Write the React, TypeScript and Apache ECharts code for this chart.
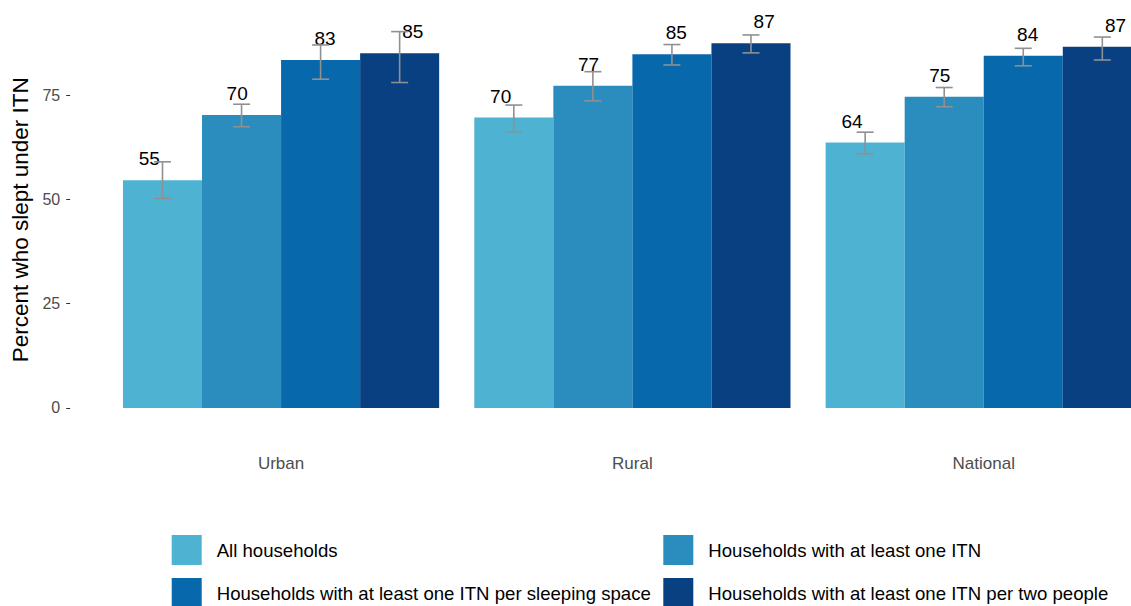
import React, { useEffect, useRef } from "react";
import * as echarts from "echarts";

const categories = ["Urban", "Rural", "National"];
const seriesNames = [
  "All households",
  "Households with at least one ITN",
  "Households with at least one ITN per sleeping space",
  "Households with at least one ITN per two people",
];
const allHouseholds = [54.6, 69.6, 63.6];
const atLeastOne = [70.2, 77.2, 74.6];
const perSleepingSpace = [83.4, 84.8, 84.4];
const perTwoPeople = [85.0, 87.4, 86.6];

const allLow = [50.2, 66.2, 60.9];
const allHigh = [59.0, 72.6, 66.1];
const oneLow = [67.4, 73.6, 72.2];
const oneHigh = [72.8, 80.6, 76.8];
const sleepLow = [78.8, 82.2, 82.0];
const sleepHigh = [87.0, 87.1, 86.2];
const twoLow = [78.0, 85.1, 83.4];
const twoHigh = [90.2, 89.4, 88.9];

const yTicks = [0, 25, 50, 75];
const colors = ["#4eb3d3", "#2b8cbe", "#0868ac", "#084081"];

const FONT = "'Liberation Sans', Arial, Helvetica, sans-serif";

export default function App() {
  const ref = useRef<HTMLDivElement>(null);
  useEffect(() => {
    if (!ref.current) return;
    document.documentElement.style.overflow = "hidden";
    document.body.style.overflow = "hidden";
    const chart = echarts.init(ref.current, undefined, { renderer: "svg" });
    const values = [allHouseholds, atLeastOne, perSleepingSpace, perTwoPeople];
    const lows = [allLow, oneLow, sleepLow, twoLow];
    const highs = [allHigh, oneHigh, sleepHigh, twoHigh];

    const gridLeft = 105.4;
    const gridWidth = 1054;
    const band = gridWidth / categories.length;
    const barW = (band * 0.9) / 4;
    const labelStep = band / 4;

    const barSeries = values.map((vals, s) => ({
      type: "bar",
      name: seriesNames[s],
      data: vals,
      barGap: "0%",
      barCategoryGap: "10%",
      itemStyle: { color: colors[s] },
      z: 2,
      label: {
        show: true,
        position: "top",
        distance: 12,
        offset: [(s - 1.5) * (labelStep - barW), 0],
        formatter: (p: any) => String(Math.round(p.value)),
        color: "#000000",
        fontSize: 19,
        fontFamily: FONT,
      },
    }));

    const errSeries = values.map((_, s) => ({
      type: "custom",
      name: "err" + s,
      z: 3,
      data: categories.map((_, i) => [i, lows[s][i], highs[s][i]]),
      encode: { x: 0, y: [1, 2] },
      renderItem: (params: any, api: any) => {
        const cat = api.value(0);
        const lo = api.value(1);
        const hi = api.value(2);
        const bw = api.size([1, 0])[0];
        const w = (bw * 0.9) / 4;
        const cx = api.coord([cat, 0])[0] + (s - 1.5) * w;
        const yl = api.coord([cat, lo])[1];
        const yh = api.coord([cat, hi])[1];
        const half = 8.5;
        const st = { stroke: "#909090", lineWidth: 1.6 };
        return {
          type: "group",
          children: [
            { type: "line", shape: { x1: cx, y1: yl, x2: cx, y2: yh }, style: st },
            { type: "line", shape: { x1: cx - half, y1: yh, x2: cx + half, y2: yh }, style: st },
            { type: "line", shape: { x1: cx - half, y1: yl, x2: cx + half, y2: yl }, style: st },
          ],
        };
      },
    }));

    const legendPos = [
      { left: 171.7, top: 535 },
      { left: 663.3, top: 535 },
      { left: 171.7, top: 578 },
      { left: 663.3, top: 578 },
    ];
    const legends = seriesNames.map((n, i) => ({
      data: [n],
      left: legendPos[i].left,
      top: legendPos[i].top,
      padding: 0,
      icon: "rect",
      itemWidth: 30,
      itemHeight: 30,
      selectedMode: false,
      textStyle: {
        color: "#000000",
        fontSize: 18.6,
        fontFamily: FONT,
        padding: [0, 0, 0, 10],
      },
    }));

    chart.setOption({
      animation: false,
      backgroundColor: "#ffffff",
      textStyle: { fontFamily: FONT },
      grid: { left: gridLeft, width: gridWidth, top: 12.8, height: 414, containLabel: false },
      legend: legends,
      xAxis: {
        type: "category",
        data: categories,
        axisLine: { show: false, onZero: false },
        axisTick: { show: false },
        axisLabel: { color: "#4d4d4d", fontSize: 17, margin: 28, fontFamily: FONT },
        splitLine: { show: false },
      },
      yAxis: {
        type: "value",
        min: -4.51,
        max: 94.71,
        offset: 35.2,
        name: "Percent who slept under ITN",
        nameLocation: "middle",
        nameGap: 36,
        nameTextStyle: { color: "#000000", fontSize: 22.5, fontFamily: FONT },
        axisLine: { show: false },
        axisTick: { show: true, length: 4, lineStyle: { color: "#333333" }, customValues: yTicks },
        axisLabel: { color: "#4d4d4d", fontSize: 16, margin: 10, fontFamily: FONT, customValues: yTicks },
        splitLine: { show: false },
      },
      series: [...barSeries, ...errSeries],
    });
    return () => chart.dispose();
  }, []);
  return (
    <div
      ref={ref}
      style={{ position: "fixed", left: 0, top: 0, width: 1200, height: 606 }}
    />
  );
}
